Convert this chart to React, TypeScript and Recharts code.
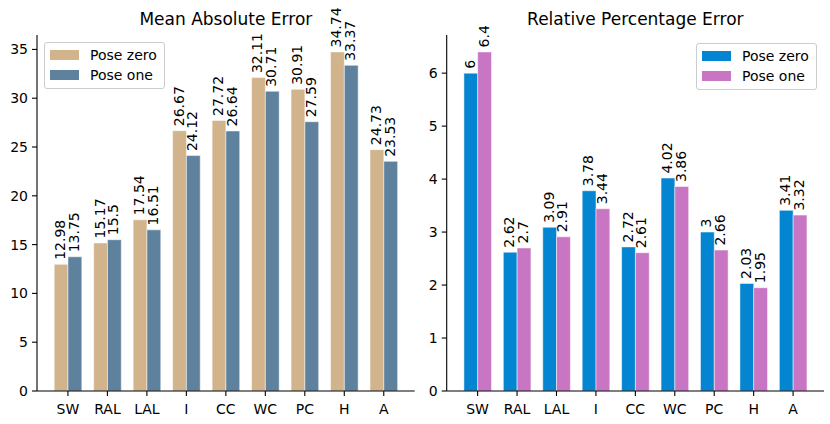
import { BarChart, Bar, XAxis, YAxis, Legend, LabelList } from "recharts";

const FONT = '"DejaVu Sans", sans-serif';

const regions = ["SW", "RAL", "LAL", "I", "CC", "WC", "PC", "H", "A"];

// Mean absolute error per region
const maePoseZero = [12.98, 15.17, 17.54, 26.67, 27.72, 32.11, 30.91, 34.74, 24.73];
const maePoseOne = [13.75, 15.5, 16.51, 24.12, 26.64, 30.71, 27.59, 33.37, 23.53];
const maeTicks = [0, 5, 10, 15, 20, 25, 30, 35];

// Relative percentage error per region
const rpePoseZero = [6, 2.62, 3.09, 3.78, 2.72, 4.02, 3, 2.03, 3.41];
const rpePoseOne = [6.4, 2.7, 2.91, 3.44, 2.61, 3.86, 2.66, 1.95, 3.32];
const rpeTicks = [0, 1, 2, 3, 4, 5, 6];

const seriesNames = ["Pose zero", "Pose one"];

interface Row {
  region: string;
  zero: number;
  one: number;
}

const toRows = (zero: number[], one: number[]): Row[] =>
  regions.map((region, i) => ({ region, zero: zero[i], one: one[i] }));

const BarValue = (props: any) => {
  const { x, y, width, value } = props;
  const tx = Number(x) + Number(width) / 2 + 4;
  const ty = Number(y) - 4.5;
  return (
    <text
      x={tx}
      y={ty}
      transform={`rotate(-90 ${tx} ${ty})`}
      textAnchor="start"
      fontSize={14}
      fontFamily={FONT}
      fill="#000"
    >
      {value}
    </text>
  );
};

const LegendBox = ({ payload }: any) => {
  // keep the series order of the bars (Pose zero first)
  const items = [...(payload || [])].sort(
    (a: any, b: any) => seriesNames.indexOf(a.value) - seriesNames.indexOf(b.value)
  );
  return (
    <div
      style={{
        border: "1px solid #cccccc",
        borderRadius: 3,
        background: "rgba(255,255,255,0.8)",
        padding: "2px 7px 3px 5px",
        fontFamily: FONT,
        fontSize: 14,
        color: "#000",
      }}
    >
      {items.map((entry: any) => (
        <div
          key={entry.value}
          style={{ display: "flex", alignItems: "center", height: 20, lineHeight: "20px" }}
        >
          <span
            style={{
              display: "inline-block",
              width: 29,
              height: 10,
              background: entry.color,
              marginRight: 11,
            }}
          />
          <span>{entry.value}</span>
        </div>
      ))}
    </div>
  );
};

interface PanelProps {
  title: string;
  rows: Row[];
  colors: [string, string];
  ticks: number[];
  yMax: number;
  left: number;
  yWidth: number;
  rightMargin: number;
  legendPos: { left: number; top: number };
}

function ErrorPanel({ title, rows, colors, ticks, yMax, left, yWidth, rightMargin, legendPos }: PanelProps) {
  const width = 415;
  const height = 424;
  const plotWidth = width - yWidth - rightMargin;
  return (
    <div style={{ position: "absolute", left, top: 0, width, height }}>
      <div
        style={{
          position: "absolute",
          left: yWidth,
          top: 9,
          width: plotWidth,
          textAlign: "center",
          fontSize: 17,
          fontFamily: FONT,
          color: "#000",
          whiteSpace: "nowrap",
        }}
      >
        {title}
      </div>
      <BarChart
        width={width}
        height={height}
        data={rows}
        margin={{ top: 35, right: rightMargin, left: 0, bottom: 0 }}
        barGap={0}
        barSize={13.8}
      >
        <XAxis
          dataKey="region"
          interval={0}
          height={33}
          padding={{ left: 11.2, right: 11.2 }}
          tickSize={5}
          tickMargin={8}
          tick={{ fill: "#000", fontSize: 14, fontFamily: FONT }}
          axisLine={{ stroke: "#000", strokeWidth: 1.1 }}
          tickLine={{ stroke: "#000", strokeWidth: 1.1 }}
        />
        <YAxis
          type="number"
          domain={[0, yMax]}
          ticks={ticks}
          width={yWidth}
          tickSize={5}
          tickMargin={4}
          tick={{ fill: "#000", fontSize: 14, fontFamily: FONT }}
          axisLine={{ stroke: "#000", strokeWidth: 1.1 }}
          tickLine={{ stroke: "#000", strokeWidth: 1.1 }}
        />
        <Legend
          layout="horizontal"
          verticalAlign="middle"
          align="center"
          content={<LegendBox />}
          wrapperStyle={{ position: "absolute", left: legendPos.left, top: legendPos.top, width: "auto" }}
        />
        <Bar
          dataKey="zero"
          name={seriesNames[0]}
          fill={colors[0]}
          stroke="#ffffff"
          strokeWidth={0.7}
          strokeOpacity={0.7}
          isAnimationActive={false}
        >
          <LabelList dataKey="zero" content={<BarValue />} />
        </Bar>
        <Bar
          dataKey="one"
          name={seriesNames[1]}
          fill={colors[1]}
          stroke="#ffffff"
          strokeWidth={0.7}
          strokeOpacity={0.7}
          isAnimationActive={false}
        >
          <LabelList dataKey="one" content={<BarValue />} />
        </Bar>
      </BarChart>
    </div>
  );
}

export default function App() {
  const maeRows = toRows(maePoseZero, maePoseOne);
  const rpeRows = toRows(rpePoseZero, rpePoseOne);
  const maeMax = Math.max(...maePoseZero, ...maePoseOne) * 1.05;
  const rpeMax = Math.max(...rpePoseZero, ...rpePoseOne) * 1.05;

  return (
    <div style={{ position: "absolute", left: 0, top: 0, width: 830, height: 424, background: "#fff" }}>
      <ErrorPanel
        title="Mean Absolute Error"
        rows={maeRows}
        colors={["#d2b48c", "#5e819d"]}
        ticks={maeTicks}
        yMax={maeMax}
        left={0}
        yWidth={37}
        rightMargin={0.3}
        legendPos={{ left: 44, top: 41.7 }}
      />
      <ErrorPanel
        title="Relative Percentage Error"
        rows={rpeRows}
        colors={["#0485d1", "#c875c4"]}
        ticks={rpeTicks}
        yMax={rpeMax}
        left={415}
        yWidth={31.7}
        rightMargin={6}
        legendPos={{ left: 281, top: 42.7 }}
      />
    </div>
  );
}
